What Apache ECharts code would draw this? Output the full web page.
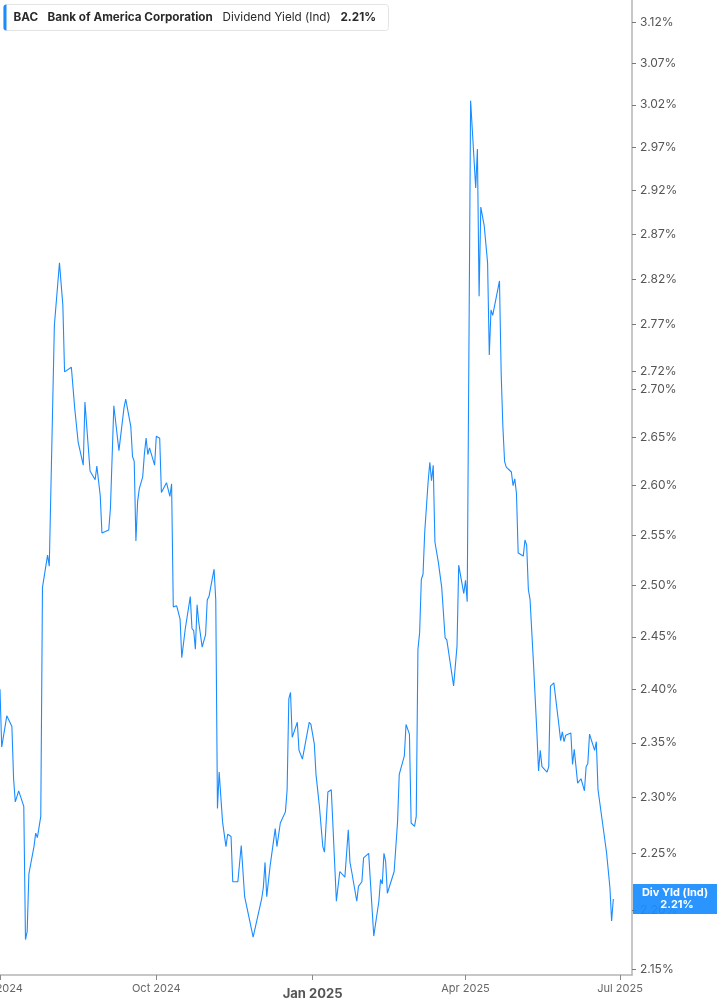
<!DOCTYPE html>
<html><head><meta charset="utf-8">
<script src="https://cdn.jsdelivr.net/npm/echarts@6/dist/echarts.min.js"></script>
<style>html,body{margin:0;padding:0;background:#fff}#c{width:717px;height:1005px}</style>
</head><body><div id="c"></div>
<script>
const dates = [
'2024-07-01','2024-07-02','2024-07-03','2024-07-05','2024-07-08','2024-07-09','2024-07-10','2024-07-11','2024-07-12','2024-07-15','2024-07-16','2024-07-17','2024-07-18','2024-07-21','2024-07-22','2024-07-23','2024-07-25','2024-07-26','2024-07-29','2024-07-30',
'2024-08-02','2024-08-05','2024-08-07','2024-08-08','2024-08-09','2024-08-12','2024-08-14','2024-08-16','2024-08-19','2024-08-20','2024-08-21','2024-08-23','2024-08-26','2024-08-27','2024-08-29','2024-08-30',
'2024-09-03','2024-09-04','2024-09-06','2024-09-09','2024-09-12','2024-09-13','2024-09-16','2024-09-17','2024-09-18','2024-09-19','2024-09-20','2024-09-21','2024-09-23','2024-09-24','2024-09-25','2024-09-26','2024-09-27','2024-09-30',
'2024-10-01','2024-10-03','2024-10-04','2024-10-07','2024-10-08','2024-10-09','2024-10-10','2024-10-11','2024-10-13','2024-10-14','2024-10-15','2024-10-16','2024-10-18','2024-10-21','2024-10-22','2024-10-23','2024-10-24','2024-10-25','2024-10-26','2024-10-28','2024-10-30','2024-10-31',
'2024-11-01','2024-11-04','2024-11-05','2024-11-06','2024-11-07','2024-11-09','2024-11-11','2024-11-12','2024-11-14','2024-11-15','2024-11-18','2024-11-20','2024-11-22','2024-11-27',
'2024-12-02','2024-12-03','2024-12-04','2024-12-05','2024-12-07','2024-12-10','2024-12-11','2024-12-12','2024-12-13','2024-12-16','2024-12-17','2024-12-18','2024-12-19','2024-12-20','2024-12-23','2024-12-24','2024-12-26','2024-12-30','2024-12-31',
'2025-01-02','2025-01-03','2025-01-05','2025-01-07','2025-01-08','2025-01-10','2025-01-12','2025-01-13','2025-01-15','2025-01-17','2025-01-20','2025-01-21','2025-01-22','2025-01-23','2025-01-24','2025-01-27','2025-01-28','2025-01-30','2025-01-31',
'2025-02-03','2025-02-06','2025-02-09','2025-02-10','2025-02-11','2025-02-12','2025-02-13','2025-02-14','2025-02-18','2025-02-20','2025-02-21','2025-02-24','2025-02-25','2025-02-26','2025-02-27','2025-02-28',
'2025-03-02','2025-03-03','2025-03-04','2025-03-05','2025-03-06','2025-03-07','2025-03-08','2025-03-10','2025-03-11','2025-03-12','2025-03-13','2025-03-14','2025-03-16','2025-03-18','2025-03-20','2025-03-21','2025-03-25','2025-03-27','2025-03-28','2025-03-31',
'2025-04-01','2025-04-02','2025-04-04','2025-04-07','2025-04-08','2025-04-09','2025-04-10','2025-04-12','2025-04-14','2025-04-15','2025-04-16','2025-04-17','2025-04-21','2025-04-22','2025-04-23','2025-04-24','2025-04-25','2025-04-28','2025-04-29','2025-04-30',
'2025-05-01','2025-05-02','2025-05-05','2025-05-06','2025-05-07','2025-05-08','2025-05-09','2025-05-11','2025-05-13','2025-05-14','2025-05-15','2025-05-16','2025-05-19','2025-05-20','2025-05-21','2025-05-22','2025-05-23','2025-05-26','2025-05-27','2025-05-28','2025-05-29','2025-05-30',
'2025-06-02','2025-06-03','2025-06-04','2025-06-05','2025-06-06','2025-06-08','2025-06-10','2025-06-11','2025-06-12','2025-06-13','2025-06-16','2025-06-17','2025-06-18','2025-06-23','2025-06-25','2025-06-26','2025-06-27'
];
const yields = [
2.400,2.346,2.347,2.375,2.365,2.317,2.296,2.295,2.306,2.292,2.175,2.182,2.232,2.256,2.268,2.264,2.283,2.498,2.530,2.519,
2.769,2.838,2.791,2.719,2.717,2.724,2.680,2.645,2.621,2.687,2.685,2.615,2.606,2.620,2.590,2.552,
2.555,2.577,2.683,2.636,2.681,2.690,2.661,2.630,2.625,2.544,2.584,2.597,2.609,2.633,2.649,2.632,2.639,2.621,
2.651,2.649,2.593,2.603,2.604,2.589,2.602,2.479,2.480,2.480,2.467,2.430,2.457,2.489,2.458,2.456,2.438,2.481,2.464,2.440,2.452,2.486,
2.489,2.516,2.486,2.290,2.323,2.278,2.256,2.267,2.265,2.225,2.225,2.257,2.212,2.177,
2.210,2.220,2.242,2.212,2.239,2.272,2.256,2.256,2.277,2.287,2.307,2.391,2.397,2.355,2.369,2.343,2.335,2.369,2.367,
2.349,2.321,2.292,2.256,2.251,2.305,2.307,2.307,2.208,2.234,2.229,2.229,2.271,2.242,2.234,2.208,2.221,2.225,2.246,
2.250,2.178,2.208,2.227,2.223,2.250,2.243,2.215,2.234,2.278,2.321,2.338,2.367,2.366,2.358,2.277,
2.274,2.283,2.438,2.454,2.506,2.511,2.553,2.604,2.624,2.605,2.621,2.543,2.523,2.498,2.449,2.447,2.403,2.441,2.520,2.492,
2.505,2.484,3.025,2.923,2.968,2.801,2.901,2.880,2.838,2.737,2.786,2.780,2.818,2.717,2.661,2.625,2.619,2.614,2.600,2.607,
2.592,2.532,2.529,2.545,2.540,2.496,2.486,2.425,2.360,2.324,2.343,2.328,2.323,2.328,2.403,2.403,2.406,2.366,2.352,2.360,2.351,2.357,
2.359,2.330,2.344,2.343,2.313,2.317,2.306,2.328,2.331,2.358,2.343,2.351,2.307,2.251,2.220,2.191,2.210
];
const yTickValues = [3.12,3.07,3.02,2.97,2.92,2.87,2.82,2.77,2.72,2.70,2.65,2.60,2.55,2.50,2.45,2.40,2.35,2.30,2.25,2.20,2.15];
const xTickDates = ['2024-07-01','2024-10-01','2025-01-01','2025-04-01','2025-07-01'];
const monthNames = ['Jan','Feb','Mar','Apr','May','Jun','Jul','Aug','Sep','Oct','Nov','Dec'];
const headerTicker = 'BAC';
const headerName = 'Bank of America Corporation';
const headerMetric = 'Dividend Yield (Ind)';
const lastLabel = 'Div Yld (Ind)';

function toTs(s){const p=s.split('-').map(Number);return Date.UTC(p[0],p[1]-1,p[2]);}
const lastVal = yields[yields.length-1];
const lastText = lastVal.toFixed(2)+'%';
const seriesData = dates.map((d,i)=>[toTs(d), yields[i]]);
const BLUE = '#1a8cff';
const FONT = 'Inter, "Noto Sans", sans-serif';

const chart = echarts.init(document.getElementById('c'));
const option = {
  animation:false,
  backgroundColor:'#ffffff',
  grid:{left:0,right:85,top:0,bottom:30,containLabel:false,outerBoundsMode:'none'},
  xAxis:{
    type:'value', min:toTs('2024-07-01'), max:toTs('2025-07-08'),
    axisLine:{show:true,lineStyle:{color:'#b5b5b5',width:1.5}},
    axisTick:{show:true,customValues:xTickDates.map(toTs),length:5,lineStyle:{color:'#8a8a8a',width:1}},
    axisLabel:{
      customValues:xTickDates.map(toTs), showMinLabel:true, showMaxLabel:true, hideOverlap:false,
      margin:8, color:'#666', fontSize:11, fontFamily:FONT,
      formatter:function(v){const d=new Date(v);const s=monthNames[d.getUTCMonth()]+' '+d.getUTCFullYear();return d.getUTCMonth()===0?'{b|'+s+'}':s;},
      rich:{b:{fontWeight:'bold',fontSize:13,color:'#555',fontFamily:FONT,padding:[5,0,0,0]}}
    },
    splitLine:{show:false}
  },
  yAxis:{
    type:'log', logBase:10, position:'right', min:2.1449, max:3.1471,
    axisLine:{show:true,lineStyle:{color:'#b5b5b5',width:1.5}},
    axisTick:{show:true,customValues:yTickValues,length:4,lineStyle:{color:'#777',width:1}},
    axisLabel:{customValues:yTickValues,margin:8,color:'#555',fontSize:12,fontFamily:FONT,
      formatter:function(v){return Number(v).toFixed(2)+'%';}},
    splitLine:{show:false}
  },
  series:[{type:'line',data:seriesData,showSymbol:false,symbol:'none',
    lineStyle:{color:BLUE,width:1.1},clip:true}]
};
chart.setOption(option);

const p = chart.convertToPixel({xAxisIndex:0,yAxisIndex:0},[toTs(dates[dates.length-1]), lastVal]);
const gridRight = chart.getWidth()-85;
const boxW = chart.getWidth()-gridRight-1;
const Z = 200;
chart.setOption({graphic:{elements:[
  {type:'group',left:3,top:4,z:Z,children:[
    {type:'rect',z:Z,shape:{x:0,y:0,width:385,height:26,r:3},style:{fill:'#fff',stroke:'#e4e4e4',lineWidth:1}},
    {type:'rect',z:Z+1,shape:{x:0,y:0,width:3,height:26,r:[3,0,0,3]},style:{fill:BLUE}},
    {type:'text',z:Z+1,x:10,y:13,style:{text:headerTicker,fontFamily:FONT,fontSize:11.7,fontWeight:'bold',fill:'#2a2a2a',verticalAlign:'middle'}},
    {type:'text',z:Z+1,x:44,y:13,style:{text:headerName,fontFamily:FONT,fontSize:11.7,fontWeight:'bold',fill:'#2a2a2a',verticalAlign:'middle'}},
    {type:'text',z:Z+1,x:219,y:13,style:{text:headerMetric,fontFamily:FONT,fontSize:11.7,fontWeight:'normal',fill:'#2a2a2a',verticalAlign:'middle'}},
    {type:'text',z:Z+1,x:337,y:13,style:{text:lastText,fontFamily:FONT,fontSize:11.7,fontWeight:'bold',fill:'#2a2a2a',verticalAlign:'middle'}}
  ]},
  {type:'group',x:gridRight+1,y:p[1]-15,z:Z,children:[
    {type:'rect',z:Z,shape:{x:0,y:0,width:boxW,height:30},style:{fill:'rgba(26,140,255,0.93)'}},
    {type:'text',z:Z+1,x:boxW/2,y:9,style:{text:lastLabel,fontFamily:FONT,fontSize:11,fontWeight:'bold',fill:'#fff',align:'center',verticalAlign:'middle'}},
    {type:'text',z:Z+1,x:boxW/2+2,y:21,style:{text:lastText,fontFamily:FONT,fontSize:11,fontWeight:'bold',fill:'#fff',align:'center',verticalAlign:'middle'}}
  ]}
]}});
</script>
</body></html>
